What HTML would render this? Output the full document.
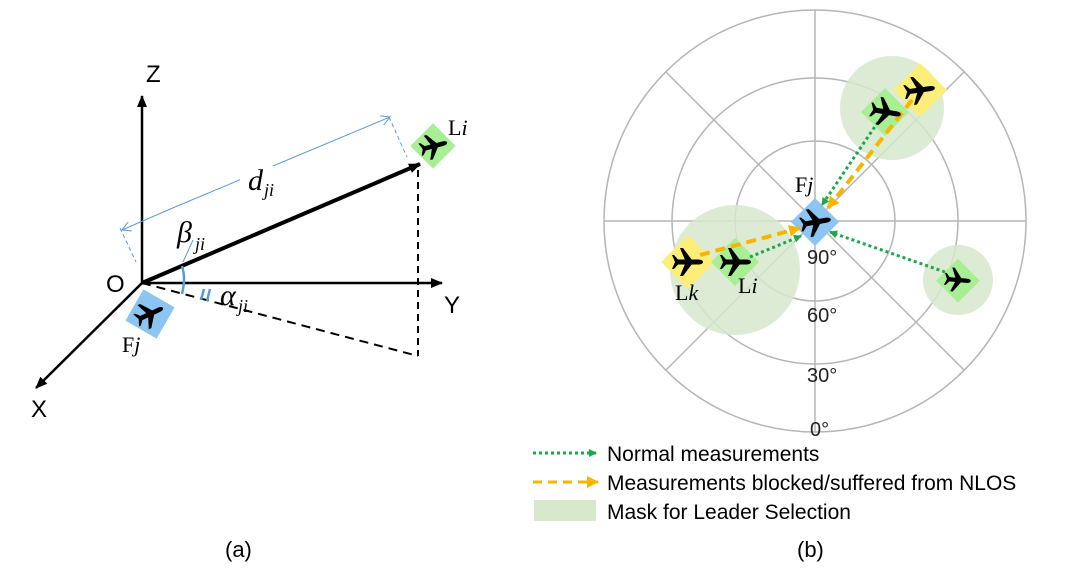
<!DOCTYPE html>
<html><head><meta charset="utf-8"><style>
body{margin:0;background:#fff}
svg{display:block}
.s{font-family:"Liberation Sans",sans-serif}
.r{font-family:"Liberation Serif",serif}
</style></head><body>
<svg width="1080" height="577" viewBox="0 0 1080 577">
<defs>
<marker id="ab" markerWidth="12" markerHeight="10" refX="11" refY="5" orient="auto" markerUnits="userSpaceOnUse"><path d="M0,0L12,5L0,10z" fill="#000"/></marker>
<marker id="ag" markerWidth="8" markerHeight="8" refX="7" refY="4" orient="auto" markerUnits="userSpaceOnUse"><path d="M0,0L8,4L0,8z" fill="#1aa84a"/></marker>
<marker id="ay" markerWidth="12" markerHeight="12" refX="11" refY="6" orient="auto" markerUnits="userSpaceOnUse"><path d="M0,0L12,6L0,12z" fill="#f8b500"/></marker>
<marker id="al" markerWidth="10" markerHeight="10" refX="9" refY="5" orient="auto" markerUnits="userSpaceOnUse"><path d="M0,0L9,5L0,10" fill="none" stroke="#5b9bd5"/></marker>
<g id="pl">
<path d="M15,0 C15,-2 12,-2.5 10,-2.5 L-10,-2.5 L-14,-7 L-16,-7 L-13,0 L-16,7 L-14,7 L-10,2.5 L10,2.5 C12,2.5 15,2 15,0z" fill="#000"/>
<path d="M4,-2 L-5,-14 L-8,-14 L-3,-2z M4,2 L-5,14 L-8,14 L-3,2z" fill="#000"/>
</g>
</defs>
<line x1="142" y1="283" x2="142" y2="96" stroke="#000" stroke-width="2.5" marker-end="url(#ab)"/>
<line x1="142" y1="283" x2="442" y2="283" stroke="#000" stroke-width="2.5" marker-end="url(#ab)"/>
<line x1="142" y1="283" x2="36" y2="388" stroke="#000" stroke-width="2.5" marker-end="url(#ab)"/>
<line x1="142" y1="283" x2="420" y2="164" stroke="#000" stroke-width="4" marker-end="url(#ab)"/>
<line x1="142" y1="283" x2="418" y2="356" stroke="#000" stroke-width="2" stroke-dasharray="9,6"/>
<line x1="418" y1="170" x2="418" y2="356" stroke="#000" stroke-width="2" stroke-dasharray="7,5"/>
<line x1="175" y1="207" x2="390" y2="117" stroke="#5b9bd5" stroke-width="1" marker-end="url(#al)"/>
<line x1="175" y1="207" x2="122" y2="230" stroke="#5b9bd5" stroke-width="1" marker-end="url(#al)"/>
<line x1="120" y1="228" x2="136" y2="262" stroke="#5b9bd5" stroke-width="1" stroke-dasharray="4,3"/>
<line x1="389" y1="117" x2="407" y2="157" stroke="#5b9bd5" stroke-width="1" stroke-dasharray="4,3"/>
<rect x="240" y="166" width="36" height="32" fill="#fff"/>
<text x="248" y="190" class="r" font-size="30" font-style="italic">d</text><text x="264" y="196" class="r" font-size="18" font-style="italic">ji</text>
<text x="177" y="242" class="r" font-size="30" font-style="italic">β</text><text x="195" y="250" class="r" font-size="18" font-style="italic">ji</text>
<line x1="183" y1="262" x2="193" y2="240" stroke="#5b9bd5" stroke-width="1"/>
<path d="M182,266 Q186,278 182,294" stroke="#5b9bd5" stroke-width="2.5" fill="none"/>
<path d="M204,289 L201,300 M210,289 L207,301" stroke="#5b9bd5" stroke-width="2.5"/>
<text x="220" y="305" class="r" font-size="30" font-style="italic">α</text><text x="238" y="312" class="r" font-size="18" font-style="italic">ji</text>
<text x="146" y="82" class="s" font-size="24">Z</text>
<text x="444" y="313" class="s" font-size="24">Y</text>
<text x="31" y="417" class="s" font-size="24">X</text>
<text x="106" y="292" class="s" font-size="24">O</text>
<rect x="417" y="130" width="32" height="32" fill="#a8ee94" transform="rotate(45 433 146)"/>
<use href="#pl" transform="translate(434,146) rotate(-15) scale(0.9)"/>
<text x="448" y="135" class="r" font-size="22">L<tspan font-style="italic">i</tspan></text>
<rect x="132" y="296" width="36" height="36" fill="#8cc4f2" transform="rotate(30 150 314)"/>
<use href="#pl" transform="translate(150,314) rotate(-25) scale(0.95)"/>
<text x="122" y="352" class="r" font-size="22">F<tspan font-style="italic">j</tspan></text>
<text x="225" y="557" class="s" font-size="22">(a)</text>
<g stroke="#b5b5b5" stroke-width="1.5" fill="none">
<circle cx="815" cy="221" r="211"/><circle cx="815" cy="221" r="143"/><circle cx="815" cy="221" r="80"/>
<line x1="604" y1="221" x2="1026" y2="221"/><line x1="815" y1="10" x2="815" y2="432"/>
<line x1="666" y1="72" x2="964" y2="370"/><line x1="964" y1="72" x2="666" y2="370"/>
</g>
<g fill="#d7e8cc" opacity="0.85">
<circle cx="892" cy="108" r="52"/><circle cx="958" cy="280" r="35"/><circle cx="735" cy="270" r="65"/>
</g>
<text x="807" y="264" class="s" font-size="20" fill="#222">90°</text>
<text x="807" y="322" class="s" font-size="20" fill="#222">60°</text>
<text x="807" y="382" class="s" font-size="20" fill="#222">30°</text>
<text x="810" y="436" class="s" font-size="20" fill="#222">0°</text>
<rect x="901" y="71" width="38" height="38" fill="#fdee7a" transform="rotate(45 920 90)"/>
<rect x="868" y="95" width="34" height="34" fill="#a8ee94" transform="rotate(45 885 112)"/>
<rect x="943" y="265" width="31" height="31" fill="#a8ee94" transform="rotate(45 958 280)"/>
<rect x="669" y="243" width="38" height="38" fill="#fdee7a" transform="rotate(45 688 262)"/>
<rect x="718" y="245" width="34" height="34" fill="#a8ee94" transform="rotate(45 735 262)"/>
<rect x="798" y="205" width="34" height="34" fill="#8cc4f2" transform="rotate(45 815 222)"/>
<line x1="878" y1="122" x2="822" y2="205" stroke="#1aa84a" stroke-width="3" stroke-dasharray="3,3" marker-end="url(#ag)"/>
<line x1="912" y1="100" x2="828" y2="208" stroke="#f8b500" stroke-width="4" stroke-dasharray="10,6" marker-end="url(#ay)"/>
<line x1="945" y1="272" x2="830" y2="232" stroke="#1aa84a" stroke-width="3" stroke-dasharray="3,3" marker-end="url(#ag)"/>
<line x1="700" y1="255" x2="800" y2="228" stroke="#f8b500" stroke-width="4" stroke-dasharray="10,6" marker-end="url(#ay)"/>
<line x1="750" y1="257" x2="801" y2="236" stroke="#1aa84a" stroke-width="3" stroke-dasharray="3,3" marker-end="url(#ag)"/>
<use href="#pl" transform="translate(920,90) rotate(-8) scale(1)"/>
<use href="#pl" transform="translate(886,112) rotate(10) scale(1)"/>
<use href="#pl" transform="translate(958,280) rotate(5) scale(0.85)"/>
<use href="#pl" transform="translate(688,262) scale(1)"/>
<use href="#pl" transform="translate(736,262) scale(1)"/>
<use href="#pl" transform="translate(816,222) rotate(-10) scale(1)"/>
<text x="795" y="192" class="r" font-size="22">F<tspan font-style="italic">j</tspan></text>
<text x="675" y="300" class="r" font-size="22">L<tspan font-style="italic">k</tspan></text>
<text x="738" y="293" class="r" font-size="22">L<tspan font-style="italic">i</tspan></text>
<line x1="533" y1="453" x2="596" y2="453" stroke="#1aa84a" stroke-width="3" stroke-dasharray="3,3" marker-end="url(#ag)"/>
<line x1="533" y1="482" x2="598" y2="482" stroke="#f8b500" stroke-width="3" stroke-dasharray="9,6" marker-end="url(#ay)"/>
<rect x="534" y="500" width="62" height="21" fill="#d7e8cc"/>
<text x="607" y="461" class="s" font-size="21">Normal measurements</text>
<text x="607" y="490" class="s" font-size="21">Measurements blocked/suffered from NLOS</text>
<text x="607" y="519" class="s" font-size="21">Mask for Leader Selection</text>
<text x="797" y="557" class="s" font-size="22">(b)</text>
</svg>
</body></html>
